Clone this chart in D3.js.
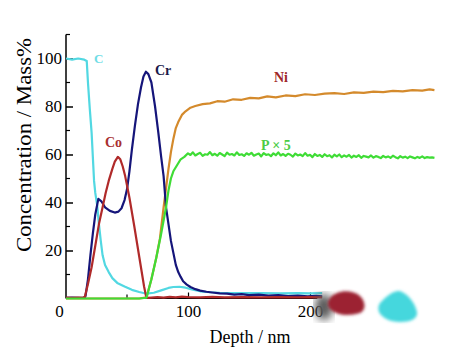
<!DOCTYPE html>
<html>
<head>
<meta charset="utf-8">
<script src="https://cdn.jsdelivr.net/npm/d3@7"></script>
<style>
  body { margin: 0; background: #fff; }
  svg { display: block; font-family: "Liberation Serif", "Times New Roman", serif; }
</style>
</head>
<body>
<svg id="chart" width="475" height="357"></svg>
<script>
// depth (nm) / concentration (mass%)
const cDepth = [0, 5, 10, 15, 17, 18, 19.5, 21, 22, 23, 24, 25.5, 27, 28.5, 30, 32, 35, 38, 42, 48, 54, 60, 66, 72, 78, 84, 88, 93, 98, 104, 110, 118, 126, 135, 145, 160, 175, 190, 200, 210];
const cVal   = [100, 99.5, 100, 99.5, 99, 90, 79, 69, 59, 49, 44, 39, 31, 24, 18, 14, 11, 8.5, 6.5, 5, 3.6, 2.7, 2.0, 2.4, 3.4, 4.4, 4.8, 4.9, 4.5, 3.7, 3, 2.6, 2.4, 2.3, 2.2, 2.3, 2.1, 2.2, 2.1, 2.2];

const coDepth = [0, 5, 10, 14, 15.5, 18, 21, 24, 27, 30, 32.5, 35, 38, 40, 42.5, 44.5, 46.5, 48.5, 52, 56, 60, 64, 65.5, 67, 70, 75, 80, 85, 90, 95, 100, 110, 120, 130, 145, 160, 175, 190, 200, 210];
const coVal   = [0.4, 0.3, 0.4, 0.3, 0.8, 6, 13, 22, 31, 38, 44, 49, 54, 57, 59, 58, 55, 51, 42, 30, 17.5, 5, 1.2, 0.3, 0.4, 0.6, 0.4, 0.7, 0.5, 0.8, 0.6, 0.5, 0.7, 0.5, 0.6, 0.5, 0.6, 0.5, 0.6, 0.5];

const crDepth = [0, 5, 10, 15, 16, 18, 20, 22, 24, 26.5, 29, 32, 36, 40, 43, 45.5, 48, 50, 52, 54, 56.5, 59, 61.5, 63.5, 65.5, 67.5, 70, 73, 75.7, 78, 80, 82, 84, 86, 88, 90, 92, 94, 96, 99, 102, 106, 110, 115, 120, 126, 132, 138, 144, 150, 158, 166, 174, 182, 190, 198, 205, 210];
const crVal   = [0.3, 0.4, 0.3, 0.4, 1, 8, 18, 27, 35, 41.5, 40.5, 38, 36.5, 35.8, 36.2, 37.6, 41, 45.5, 53, 62, 72, 81, 88, 92.5, 94.5, 93.5, 90, 80, 69, 59, 51, 38, 31, 24, 19, 14, 11, 9, 7.2, 5.8, 4.8, 3.9, 3.3, 2.8, 2.5, 2.1, 2.0, 1.6, 1.8, 1.4, 1.6, 1.2, 1.4, 1.0, 1.2, 0.9, 1.1, 0.9];

const niDepth = [0, 20, 40, 60, 66, 70, 74, 77, 80, 82, 84, 86, 88, 90, 92, 95, 98, 102, 106, 112, 118, 124, 130, 137, 144, 151, 158, 165, 172, 180, 188, 196, 204, 212, 220, 228, 236, 244, 252, 260, 268, 276, 284, 292, 298, 302];
const niVal   = [0, 0, 0, 0, 0.5, 8, 17, 25, 38, 46, 54, 61, 66.5, 71, 73.5, 76.5, 78, 79.5, 80.2, 81, 81.3, 82.2, 82, 83, 82.8, 83.6, 83.4, 84.2, 83.8, 84.6, 84.3, 85.1, 84.8, 85.4, 85.6, 85.2, 85.9, 85.7, 86.2, 86, 86.5, 86.3, 86.8, 86.6, 87.1, 86.8];

const pDepth = [0, 20, 40, 60, 66, 70, 74, 78, 82, 84, 86, 88, 91, 94, 97,
  100, 102, 104, 106, 108, 110, 112, 114, 116, 118, 120, 122, 124, 126, 128, 130, 132, 134, 136, 138,
  140, 142, 144, 146, 148, 150, 152, 154, 156, 158, 160, 162, 164, 166, 168, 170, 172, 174, 176, 178,
  180, 182, 184, 186, 188, 190, 192, 194, 196, 198, 200, 202, 204, 206, 208, 210, 212, 214, 216, 218,
  220, 222, 224, 226, 228, 230, 232, 234, 236, 238, 240, 242, 244, 246, 248, 250, 252, 254, 256, 258,
  260, 262, 264, 266, 268, 270, 272, 274, 276, 278, 280, 282, 284, 286, 288, 290, 292, 294, 296, 298,
  300, 302];
const pVal = [0, 0, 0, 0, 0.3, 8, 17, 27, 38, 45, 50, 53, 55.5, 58, 59,
  60.5, 59.8, 60.9, 59.6, 60.2, 60.7, 59.4, 60.1, 59.9, 61.0, 59.7, 60.3, 59.5, 60.6, 60.0, 59.3, 60.8, 59.9, 60.2, 59.6,
  60.9, 59.8, 60.1, 59.4, 60.5, 59.9, 60.7, 59.5, 60.0, 60.4, 59.2, 60.6, 59.8, 60.1, 59.3, 60.5, 59.7, 60.9, 59.6, 60.2,
  59.4, 60.3, 59.9, 59.1, 60.4, 59.6, 60.0, 59.3, 60.6, 59.5, 59.9, 58.9, 60.2, 59.4, 59.8, 59.0, 60.1, 59.3, 59.7, 58.8,
  59.9, 59.2, 60.0, 58.9, 59.6, 59.1, 59.8, 58.7, 59.5, 59.0, 59.7, 58.6, 59.4, 59.1, 58.8, 59.6, 58.7, 59.3, 59.0, 58.5,
  59.4, 58.8, 59.2, 58.6, 59.5, 58.9, 58.4, 59.3, 58.7, 59.1, 58.5, 59.2, 58.8, 58.4, 59.0, 58.6, 59.2, 58.5, 58.9, 58.7,
  58.8, 58.6];

const yTicks = [20, 40, 60, 80, 100];
const yMinor = [10, 30, 50, 70, 90, 110];
const xTicks = [0, 100, 200];
const xMinor = [50, 150];

const svg = d3.select("#chart");
const x = d3.scaleLinear().domain([0, 200]).range([66, 310]);
const y = d3.scaleLinear().domain([0, 100]).range([298.5, 58.5]);

// smudges over the lower right corner
const defs = svg.append("defs");
defs.append("filter").attr("id", "blur").append("feGaussianBlur").attr("stdDeviation", 1.5);
defs.append("filter").attr("id", "blur2").append("feGaussianBlur").attr("stdDeviation", 4);

// axes
const yAxis = svg.append("g")
    .attr("transform", "translate(66,0)")
    .call(d3.axisLeft(y).tickValues(yTicks).tickSizeInner(-7).tickSizeOuter(0).tickPadding(4));
yAxis.select(".domain").attr("d", `M0,${y(110)}V${y(0)}`);
yAxis.selectAll(".tick text").attr("font-size", 17).attr("font-family", "Liberation Serif").attr("fill", "#000");
yAxis.selectAll("line, path").attr("stroke", "#000").attr("stroke-width", 1.5);
svg.append("g").selectAll("line").data(yMinor).join("line")
    .attr("x1", 66).attr("x2", 70).attr("y1", d => y(d)).attr("y2", d => y(d))
    .attr("stroke", "#000").attr("stroke-width", 1.2);

const xAxis = svg.append("g")
    .attr("transform", `translate(0,${y(0)})`)
    .call(d3.axisBottom(x).tickValues(xTicks).tickSizeInner(-6).tickSizeOuter(0).tickPadding(6));
xAxis.select(".domain").attr("d", `M${x(0)},0H${x(206)}`);
xAxis.selectAll(".tick text").attr("font-size", 17).attr("font-family", "Liberation Serif").attr("fill", "#000");
xAxis.selectAll(".tick").filter(d => d === 0).select("text").attr("x", -7);
xAxis.selectAll(".tick").filter(d => d === 0).select("line").remove();
xAxis.selectAll("line, path").attr("stroke", "#000").attr("stroke-width", 1.2);
svg.append("g").selectAll("line").data(xMinor).join("line")
    .attr("x1", d => x(d)).attr("x2", d => x(d)).attr("y1", y(0)).attr("y2", y(0) - 4)
    .attr("stroke", "#000").attr("stroke-width", 1.2);

// curves
const line = d3.line().x(d => x(d[0])).y(d => y(d[1]));
const pts = (ds, vs) => ds.slice(0, Math.min(ds.length, vs.length)).map((d, i) => [d, vs[i]]);
const series = [
  { data: pts(niDepth, niVal), color: "#d48a2c" },
  { data: pts(cDepth, cVal), color: "#52d8e2" },
  { data: pts(crDepth, crVal), color: "#15157a" },
  { data: pts(coDepth, coVal), color: "#b02a2a" },
  { data: pts(pDepth, pVal), color: "#3fdc36" }
];
svg.append("g").selectAll("path").data(series).join("path")
    .attr("d", d => line(d.data))
    .attr("fill", "none")
    .attr("stroke", d => d.color)
    .attr("stroke-width", 2.2)
    .attr("stroke-linejoin", "round");

// series labels
const labels = [
  { t: "C", x: 94, y: 63, c: "#6fdde6", s: 13 },
  { t: "Cr", x: 155, y: 75, c: "#1a1a4a", s: 14 },
  { t: "Co", x: 105, y: 147, c: "#a83030", s: 14 },
  { t: "Ni", x: 274, y: 82, c: "#a02828", s: 14 },
  { t: "P \u00d7 5", x: 261, y: 150, c: "#4ccc44", s: 14 }
];
svg.append("g").selectAll("text").data(labels).join("text")
    .attr("x", d => d.x).attr("y", d => d.y)
    .attr("fill", d => d.c)
    .attr("font-size", d => d.s)
    .attr("font-weight", "bold")
    .text(d => d.t);

// titles
svg.append("text")
    .attr("transform", "translate(31,145) rotate(-90)")
    .attr("text-anchor", "middle")
    .attr("font-size", 20)
    .attr("textLength", 214)
    .attr("lengthAdjust", "spacingAndGlyphs")
    .text("Concentration / Mass%");
svg.append("text")
    .attr("x", 250).attr("y", 343)
    .attr("text-anchor", "middle")
    .attr("font-size", 18)
    .text("Depth / nm");

// blobs
const blobs = svg.append("g");
blobs.append("ellipse").attr("cx", 324).attr("cy", 307).attr("rx", 9).attr("ry", 13)
    .attr("fill", "#5a5a5a").attr("filter", "url(#blur2)");
blobs.append("path")
    .attr("d", "M330,298 C336,290 352,289 360,296 C366,302 366,310 360,313 C350,316 338,316 331,310 C327,306 327,302 330,298 Z")
    .attr("fill", "#9c2233").attr("filter", "url(#blur)");
blobs.append("path")
    .attr("d", "M380,303 C386,296 394,290 400,291 C408,294 415,303 417,312 C418,319 410,322 400,322 C390,322 382,318 379,312 C378,309 378,306 380,303 Z")
    .attr("fill", "#45d7dd").attr("filter", "url(#blur)");
</script>
</body>
</html>
